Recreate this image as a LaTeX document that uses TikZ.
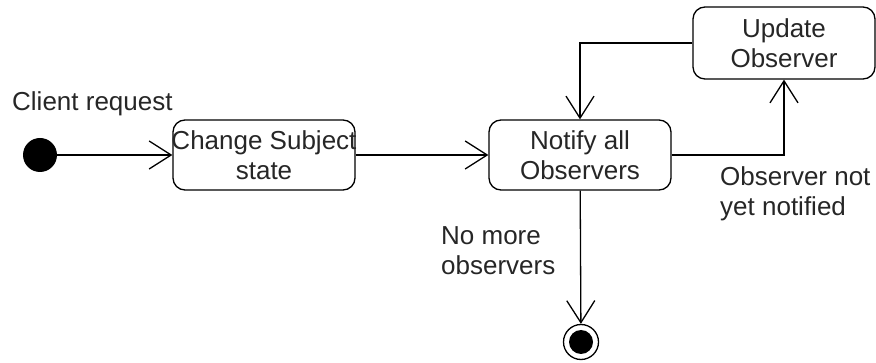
\documentclass[tikz,border=0pt]{standalone}
\usepackage{fontspec}
\setmainfont{Liberation Sans}
\usetikzlibrary{arrows.meta}
\begin{document}
\begin{tikzpicture}[x=1pt,y=-1pt,
  every node/.style={font=\fontsize{26}{30}\selectfont, text=black!85},
  statebox/.style={draw, rounded corners=12pt, line width=1.3pt,
    minimum width=182pt, minimum height=70pt, align=center, inner sep=0pt},
  flow/.style={line width=1.3pt,
    -{Straight Barb[length=22pt,width=28pt,line width=1.3pt]}},
  note/.style={align=left, anchor=west, inner sep=0pt}]
\useasboundingbox (0,0) rectangle (876,363);

% states
\node[circle, fill=black, minimum size=34pt, inner sep=0pt] (init) at (40,155) {};
\node[statebox, label={[align=center]center:Change Subject\\state}] (change) at (264,155) {};
\node[statebox] (notify) at (580,155) {Notify all\\Observers};
\node[statebox, minimum height=72pt] (update) at (784,43) {Update\\Observer};
\node[circle, draw, line width=1.3pt, minimum size=35pt, inner sep=0pt] (final) at (581,342) {};
\node[circle, fill=black, minimum size=24pt, inner sep=0pt] (finaldot) at (final) {};

% transitions
\draw[flow] (init) -- (change);
\draw[flow] (change) -- (notify);
\draw[flow] (notify.east) -| (update.south);
\draw[flow] (update.west) -| (notify.north);
\draw[flow] (notify) -- (final);

% guard labels
\node[note] (lclient) at (12,104) {Client request};
\node[note] (lnot) at (720,194) {Observer not\\yet notified};
\node[note] (lnomore) at (441,251) {No more\\observers};
\end{tikzpicture}
\end{document}
